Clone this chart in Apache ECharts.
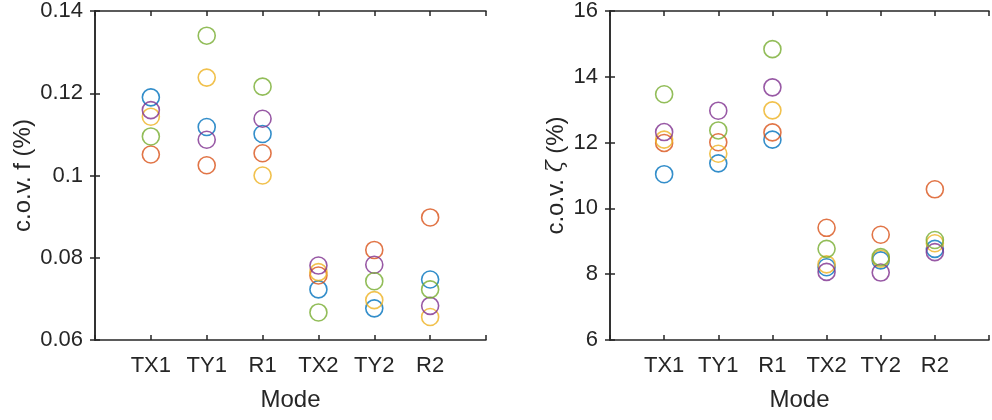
<!DOCTYPE html>
<html>
<head>
<meta charset="utf-8">
<script src="https://cdn.jsdelivr.net/npm/echarts@6/dist/echarts.min.js"></script>
<style>
    html, body { margin: 0; padding: 0; background: #fff; }
    #chart { width: 992px; height: 420px; }
</style>
</head>
<body>
<div id="chart"></div>
<script>
// modes on the x axis (placed at 1..6)
const modes = ['TX1', 'TY1', 'R1', 'TX2', 'TY2', 'R2'];

// c.o.v. of frequency (%), one array per case
const freqBlue   = [0.1190, 0.1118, 0.1101, 0.0723, 0.0677, 0.0747];
const freqRed    = [0.1051, 0.1025, 0.1054, 0.0757, 0.0819, 0.0898];
const freqYellow = [0.1143, 0.1238, 0.1000, 0.0765, 0.0697, 0.0656];
const freqPurple = [0.1159, 0.1087, 0.1138, 0.0781, 0.0783, 0.0683];
const freqGreen  = [0.1095, 0.1340, 0.1216, 0.0667, 0.0743, 0.0723];

// c.o.v. of damping ratio (%)
const dampBlue   = [11.04, 11.37, 12.09, 8.21, 8.42, 8.77];
const dampRed    = [11.99, 12.01, 12.31, 9.41, 9.20, 10.58];
const dampYellow = [12.09, 11.66, 12.98, 8.30, 8.47, 8.94];
const dampPurple = [12.32, 12.97, 13.68, 8.07, 8.05, 8.67];
const dampGreen  = [13.47, 12.37, 14.84, 8.77, 8.52, 9.04];

const colors = ['#0072BD', '#D95319', '#EDB120', '#7E2F8E', '#77AC30'];
const freqSets = [freqBlue, freqRed, freqYellow, freqPurple, freqGreen];
const dampSets = [dampBlue, dampRed, dampYellow, dampPurple, dampGreen];

const ink = '#262626';
const font = 'Liberation Sans, Arial, sans-serif';

const chart = echarts.init(document.getElementById('chart'), null, { renderer: 'canvas' });

function xAxes(gridIndex) {
    const base = {
        type: 'value', gridIndex: gridIndex, min: 0, max: 7, interval: 1,
        splitLine: { show: false },
        axisLine: { lineStyle: { color: ink, width: 1.5 } },
        axisTick: { inside: true, length: 5, lineStyle: { color: ink, width: 1.5 } }
    };
    return [
        Object.assign({}, base, {
            position: 'bottom',
            name: 'Mode', nameLocation: 'middle', nameGap: 48,
            nameTextStyle: { fontFamily: font, fontSize: 24, color: ink },
            axisLabel: {
                fontFamily: font, fontSize: 22, color: ink, margin: 15,
                formatter: v => modes[v - 1] || ''
            }
        }),
        Object.assign({}, base, { position: 'top', axisLabel: { show: false } })
    ];
}

function yAxes(gridIndex, min, max, interval, name, nameGap) {
    const base = {
        type: 'value', gridIndex: gridIndex, min: min, max: max, interval: interval,
        splitLine: { show: false },
        axisLine: { show: true, lineStyle: { color: ink, width: 1.5 } },
        axisTick: { show: true, inside: true, length: 5, lineStyle: { color: ink, width: 1.5 } }
    };
    return [
        Object.assign({}, base, {
            position: 'left',
            name: name, nameLocation: 'middle', nameGap: nameGap,
            nameTextStyle: {
                fontFamily: font, fontSize: 24, color: ink,
                rich: { z: { fontFamily: 'DejaVu Serif', fontStyle: 'italic', fontSize: 22, color: ink } }
            },
            axisLabel: { fontFamily: font, fontSize: 22, color: ink, margin: 12 }
        }),
        Object.assign({}, base, { position: 'right', axisLabel: { show: false } })
    ];
}

function scatterSeries(sets, xIdx, yIdx) {
    return sets.map((vals, i) => ({
        type: 'scatter',
        name: 'Case ' + (i + 1),
        xAxisIndex: xIdx,
        yAxisIndex: yIdx,
        symbol: 'circle',
        symbolSize: 17,
        itemStyle: { color: 'rgba(0,0,0,0)', borderColor: colors[i], borderWidth: 1.6 },
        emphasis: { disabled: true },
        data: vals.map((v, k) => [k + 1, v])
    }));
}

chart.setOption({
    backgroundColor: '#fff',
    animation: false,
    grid: [
        { left: 95, top: 9, width: 391, height: 331 },
        { left: 610, top: 9, width: 389, height: 331 }
    ],
    xAxis: xAxes(0).concat(xAxes(1)),
    yAxis: yAxes(0, 0.06, 0.14, 0.02, 'c.o.v. f (%)', 60)
        .concat(yAxes(1, 6, 16, 2, 'c.o.v. {z|ζ} (%)', 42)),
    series: scatterSeries(freqSets, 0, 0).concat(scatterSeries(dampSets, 2, 2))
});
</script>
</body>
</html>
